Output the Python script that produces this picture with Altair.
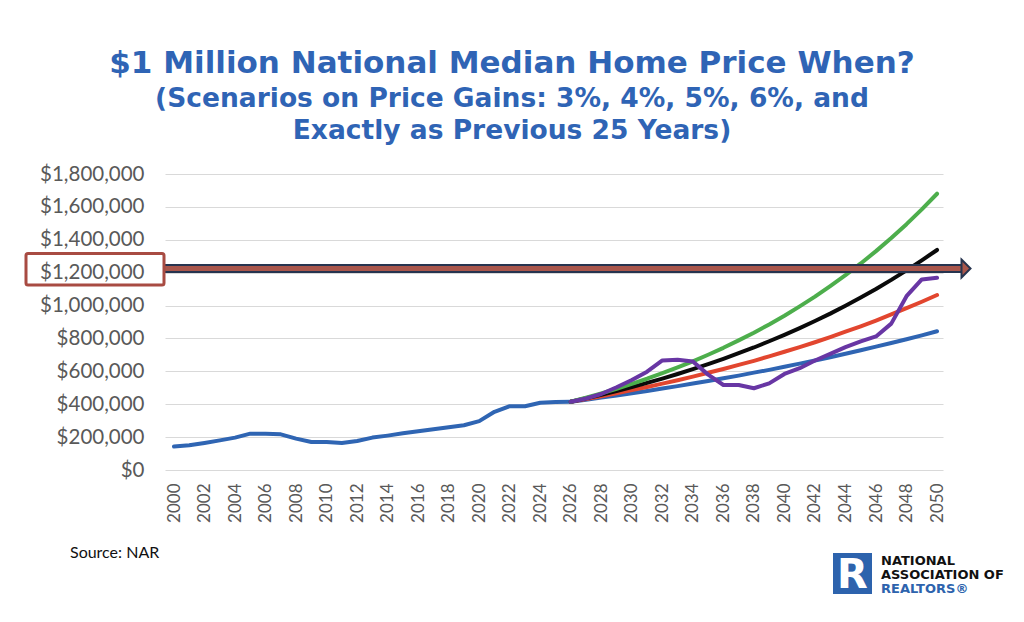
import altair as alt
import pandas as pd

# Historical national median existing-home price
years_hist = list(range(2000, 2027))
hist_price = [143000, 150000, 164000, 180000, 197000, 221000, 221000, 217000, 191000, 170000,
              170000, 164000, 176000, 197000, 209000, 223000, 235000, 248000, 260000, 272000,
              297000, 354000, 388000, 388000, 409000, 413000, 415000]

# Projection scenarios, 2026-2050
years_proj = list(range(2026, 2051))
gain_3 = [415000, 427000, 440000, 453000, 467000, 481000, 496000, 510000, 526000, 541000,
          558000, 574000, 592000, 609000, 628000, 647000, 666000, 686000, 707000, 728000,
          750000, 772000, 795000, 819000, 844000]
gain_4 = [415000, 432000, 449000, 467000, 486000, 505000, 525000, 546000, 568000, 591000,
          614000, 639000, 664000, 691000, 719000, 747000, 777000, 808000, 841000, 874000,
          909000, 946000, 984000, 1023000, 1064000]
gain_5 = [415000, 436000, 458000, 480000, 504000, 530000, 556000, 584000, 613000, 644000,
          676000, 710000, 745000, 783000, 822000, 863000, 906000, 951000, 999000, 1049000,
          1101000, 1156000, 1214000, 1275000, 1338000]
gain_6 = [415000, 440000, 466000, 494000, 524000, 555000, 589000, 624000, 661000, 701000,
          743000, 788000, 835000, 885000, 938000, 995000, 1054000, 1118000, 1185000, 1256000,
          1331000, 1411000, 1495000, 1585000, 1680000]
prev_25 = [415000, 435000, 462000, 503000, 547000, 598000, 666000, 670000, 660000, 580000,
           517000, 517000, 497000, 527000, 584000, 619000, 666000, 706000, 747000, 782000,
           812000, 890000, 1057000, 1159000, 1169000]

series = [
    ("Historical", years_hist, hist_price, "#2F65B3"),
    ("3%", years_proj, gain_3, "#2F65B3"),
    ("4%", years_proj, gain_4, "#E2462F"),
    ("5%", years_proj, gain_5, "#0A0A0A"),
    ("6%", years_proj, gain_6, "#4DAE4C"),
    ("Previous 25 Years", years_proj, prev_25, "#6836A4"),
]

threshold_level = 1225000

y_ticks = list(range(0, 1800001, 200000))
x_ticks = list(range(2000, 2051, 2))

x_scale = alt.Scale(domain=[1999.41, 2050.39], nice=False, zero=False)
y_scale = alt.Scale(domain=[0, 1800000], nice=False)

x_axis = alt.Axis(values=x_ticks, format="d", labelAngle=270, labelFont="Lato",
                  labelFontSize=17, labelColor="#595959", labelPadding=13,
                  grid=False, ticks=False, domain=False, title=None, labelOverlap=False)
y_axis = alt.Axis(values=y_ticks, format="$,.0f", labelFont="Lato", labelFontSize=20.5,
                  labelColor="#595959", labelPadding=21, grid=True, gridColor="#D9D9D9",
                  gridWidth=1, ticks=False, domain=False, title=None, labelOverlap=False)

layers = []
for name, xs, ys, color in series:
    df = pd.DataFrame({"year": xs, "price": ys, "series": name})
    layers.append(
        alt.Chart(df).mark_line(color=color, strokeWidth=4, strokeCap="round",
                                strokeJoin="round").encode(
            x=alt.X("year:Q", scale=x_scale, axis=x_axis),
            y=alt.Y("price:Q", scale=y_scale, axis=y_axis),
        )
    )

one = pd.DataFrame({"k": [0]})
level_y = alt.YDatum(threshold_level, type="quantitative", scale=y_scale, axis=y_axis)

# Threshold arrow: dark outline, brick-red core, arrowhead
arrow_outline = alt.Chart(one).mark_rule(color="#26344F", strokeWidth=9, clip=False).encode(
    x=alt.value(0), x2=alt.value(797), y=level_y)
arrow_core = alt.Chart(one).mark_rule(color="#A9564B", strokeWidth=5, clip=False).encode(
    x=alt.value(0), x2=alt.value(797), y=level_y)
arrow_head = alt.Chart(one).mark_point(
    shape="M-0.5,-1L0.5,0L-0.5,1Z", size=324, filled=True, fill="#A9564B",
    stroke="#26344F", strokeWidth=2, opacity=1, clip=False).encode(
    x=alt.value(801), y=level_y)

# Box around the $1,200,000 label
label_box = alt.Chart(one).mark_rect(filled=False, stroke="#A84B42", strokeWidth=3,
                                     cornerRadius=2).encode(
    x=alt.value(-139), x2=alt.value(-1), y=alt.value(79.5), y2=alt.value(111))


def text_layer(txt, x, y, size, color, font, weight="normal", align="center"):
    return alt.Chart(one).mark_text(text=txt, fontSize=size, color=color, font=font,
                                    fontWeight=weight, align=align,
                                    baseline="alphabetic").encode(
        x=alt.value(x), y=alt.value(y))


title_color = "#2F64B5"
titles = [
    text_layer("$1 Million National Median Home Price When?", 347, -101, 31, title_color,
               "DejaVu Sans", "bold"),
    text_layer("(Scenarios on Price Gains: 3%, 4%, 5%, 6%, and", 347, -67, 26.5, title_color,
               "DejaVu Sans", "bold"),
    text_layer("Exactly as Previous 25 Years)", 347, -35, 26.5, title_color,
               "DejaVu Sans", "bold"),
]

source = text_layer("Source: NAR", -95, 384, 16, "#111111", "Lato", align="left")

# Organisation mark
logo_box = alt.Chart(one).mark_rect(color="#2D63AD").encode(
    x=alt.value(668), x2=alt.value(707), y=alt.value(379), y2=alt.value(420))
logo_r = text_layer("R", 687.5, 414, 40, "white", "DejaVu Sans", "bold")
logo_text = [
    text_layer("NATIONAL", 716, 391, 13, "#111111", "DejaVu Sans", "bold", "left"),
    text_layer("ASSOCIATION OF", 716, 405, 13, "#111111", "DejaVu Sans", "bold", "left"),
    text_layer("REALTORS®", 716, 419, 13, "#2D63AD", "DejaVu Sans", "bold", "left"),
]

chart = alt.layer(
    *layers, arrow_outline, arrow_core, arrow_head, label_box, *titles, source,
    logo_box, logo_r, *logo_text
).properties(
    width=778, height=296,
    autosize=alt.AutoSizeParams(type="none"),
    padding={"left": 165, "top": 174, "right": 81, "bottom": 152},
    background="white",
).configure_view(stroke=None)

chart.save("out.html", embed_options={"renderer": "svg", "actions": False})
